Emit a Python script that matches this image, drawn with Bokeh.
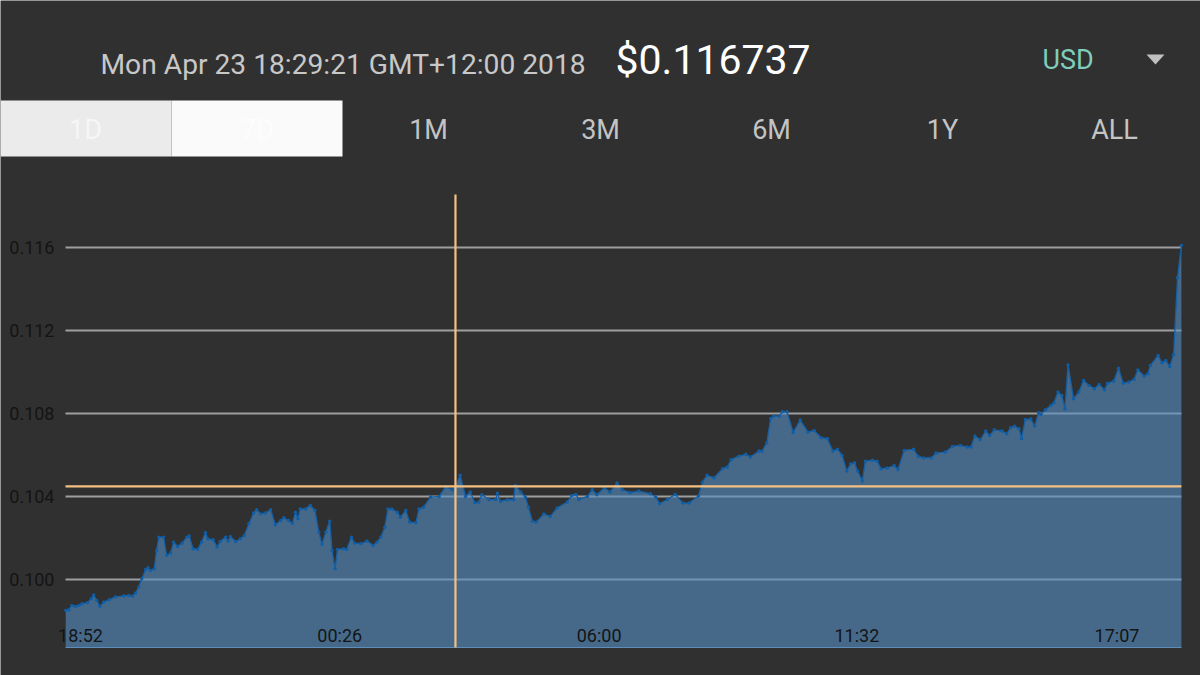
from bokeh.plotting import figure
from bokeh.models import Range1d, LinearAxis, FixedTicker, NumeralTickFormatter
from bokeh.core.properties import value
from bokeh.embed import file_html
from bokeh.resources import INLINE

# minutes after 18:52 on the first day
minutes = [-19,-15,-11,-6,-2,2,9,14,17,21,25,30,37,45,56,62,67,71,75,79,84,87,90,95,98,101,107,111,116,120,125,131,137,140,145,151,156,161,164,171,176,180,187,190,193,200,206,211,217,223,227,232,238,245,251,258,262,268,273,277,280,283,290,296,302,307,311,316,321,324,328,331,339,343,349,353,361,369,377,382,387,392,396,401,408,
412,419,424,432,436,442,451,462,470,479,483,489,496,502,508,513,517,526,535,537,541,550,558,560,567,573,577,582,587,597,605,614,627,633,638,642,653,659,665,675,682,691,698,708,719,734,741,746,756,766,776,784,796,801,807,816,827,833,838,848,857,863,874,878,884,889,893,900,904,910,918,927,
937,945,954,962,969,975,981,987,992,997,1001,1007,1011,1020,1026,1031,1039,1048,1053,1061,1073,1079,1086,1096,1102,1114,1123,1133,1142,1147,1152,1159,1166,1171,1177,1187,1193,1198,1203,1209,1212,1217,1224,1229,1234,1237,1243,1250,1254,1259,1264,1268,1272,1279,1286,1292,1299,1306,1312,1319,1323,1331,1337,1343,1350,1357,1362,1370,1375,1378,1388,1393,1398,1403,1408,1413,1418]

prices = [.09851,.09854,.09875,.09870,.09875,.09883,.09888,.09907,.09925,.09899,.09870,.09891,.09902,.09916,.09921,.09923,.09920,.09934,.09963,.10003,.10048,.10056,.10043,.10051,.10140,.10204,.10204,.10116,.10127,.10180,.10159,.10175,.10204,.10209,.10148,.10145,.10180,.10225,.10196,.10191,.10156,.10183,.10204,.10185,.10207,.10183,.10196,.10212,.10268,.10320,.10336,.10316,.10320,.10336,.10263,.10284,.10297,.10284,.10271,.10324,.10292,.10340,.10340,.10357,.10332,.10228,.10169,.10228,.10281,.10140,.10051,.10145,.10148,.10145,.10204,.10175,.10172,.10185,.10164,.10180,.10204,.10252,.10340,.10340,.10324,
.10300,.10332,.10276,.10273,.10340,.10348,.10397,.10400,.10445,.10432,.10448,.10502,.10400,.10421,.10369,.10373,.10408,.10385,.10385,.10416,.10376,.10384,.10384,.10453,.10421,.10397,.10348,.10281,.10276,.10316,.10303,.10345,.10373,.10405,.10410,.10385,.10400,.10432,.10408,.10442,.10421,.10465,.10432,.10418,.10426,.10413,.10397,.10365,.10385,.10410,.10368,.10368,.10402,.10469,.10502,.10490,.10534,.10542,.10577,.10594,.10603,.10590,.10619,.10618,.10658,.10776,.10787,.10787,.10808,.10808,.10708,.10768,
.10710,.10718,.10683,.10678,.10619,.10627,.10598,.10522,.10557,.10562,.10522,.10474,.10570,.10574,.10570,.10533,.10537,.10549,.10530,.10622,.10627,.10593,.10586,.10586,.10609,.10614,.10641,.10646,.10638,.10638,.10691,.10673,.10715,.10694,.10721,.10715,.10702,.10731,.10739,.10726,.10678,.10771,.10773,.10739,.10803,.10795,.10818,.10839,.10851,.10903,.10887,.10822,.11034,.10871,.10903,.10959,.10935,.10919,.10940,.10914,.10946,.10956,.11018,.10946,.10951,.10964,.11010,.10980,.10991,.11031,.11079,.11044,.11055,.11026,.11084,.11454,.11610]

y_ticks = [0.100, 0.104, 0.108, 0.112, 0.116]
x_ticks = [0, 334, 668, 1000, 1335]
x_tick_labels = ["18:52", "00:26", "06:00", "11:32", "17:07"]
tab_labels = ["1D", "7D", "1M", "3M", "6M", "1Y", "ALL"]
date_text = "Mon Apr 23 18:29:21 GMT+12:00 2018"
price_text = "$0.116737"
currency = "USD"
cross_minute = 483
cross_price = 0.10448

BG = "#303030"
p = figure(width=1200, height=675, output_backend="svg", toolbar_location=None,
           x_range=Range1d(-103, 1442.6), y_range=Range1d(.09537, .12790),
           x_axis_type=None, y_axis_type=None, min_border=0,
           background_fill_color=BG, border_fill_color=BG, outline_line_color=None)
p.grid.visible = False
p.extra_x_ranges["px"] = Range1d(0, 1200)
p.extra_y_ranges["px"] = Range1d(675, 0)

x0, x1, y0 = -19.3, 1418, 0.09672
ROBOTO = value("Roboto")

p.segment(x0=[x0]*len(y_ticks), x1=[x1]*len(y_ticks), y0=y_ticks, y1=y_ticks,
          line_color="#9e9e9e", line_width=2)
p.varea(x=minutes, y1=[y0]*len(minutes), y2=prices, fill_color="#558fc6", fill_alpha=0.6)
p.segment(x0=[x0], x1=[x1], y0=[y0], y1=[y0], line_color="#5d8db8", line_width=1.2)
p.line(minutes, prices, line_color="#1560a6", line_width=1.3)
p.scatter(minutes, prices, size=3.4, fill_color="#0f5ea6", line_color=None)

p.segment(x0=[x0], x1=[x1], y0=[cross_price], y1=[cross_price], line_color="#f4c183", line_width=2.2)
p.segment(x0=[cross_minute], x1=[cross_minute], y0=[y0], y1=[0.11855], line_color="#f4c183", line_width=2.2)

yax = LinearAxis(fixed_location=x0, ticker=FixedTicker(ticks=y_ticks),
                 formatter=NumeralTickFormatter(format="0.000"),
                 axis_line_color=None, major_tick_line_color=None, minor_tick_line_color=None,
                 major_label_text_color="#141414", major_label_text_font="Roboto",
                 major_label_text_font_size="18px", major_label_standoff=5)
p.add_layout(yax, "left")
xax = LinearAxis(fixed_location=0.09821, ticker=FixedTicker(ticks=x_ticks),
                 major_label_overrides=dict(zip(x_ticks, x_tick_labels)),
                 axis_line_color=None, major_tick_line_color=None, minor_tick_line_color=None,
                 major_label_text_color="#141414", major_label_text_font="Roboto",
                 major_label_text_font_size="18px", major_label_standoff=2)
p.add_layout(xax, "below")

# header, in reference pixels
p.quad(left=[0, 171], right=[171, 342], top=[100, 100], bottom=[156, 156],
       fill_color=["#ebebeb", "#fafafa"], line_color=None, x_range_name="px", y_range_name="px")
tab_x = [85, 257, 428, 600, 771, 942, 1114]
tab_colors = ["#f6f6f6", "#fdfdfd"] + ["#c4c4c4"] * 5
p.text(x=tab_x, y=[129.5]*7, text=tab_labels, text_color=tab_colors, text_font=ROBOTO, text_font_size="27px",
       text_align="center", text_baseline="middle", x_range_name="px", y_range_name="px")
p.text(x=[100], y=[63.5], text=[date_text], text_color="#c8c8c8", text_font=ROBOTO, text_font_size="28.2px",
       text_baseline="middle", x_range_name="px", y_range_name="px")
p.text(x=[615], y=[59.5], text=[price_text], text_color="#ffffff", text_font=ROBOTO, text_font_size="41px",
       text_baseline="middle", x_range_name="px", y_range_name="px")
p.text(x=[1042], y=[59.5], text=[currency], text_color="#7fcdbb", text_font=ROBOTO, text_font_size="27px",
       text_baseline="middle", x_range_name="px", y_range_name="px")
p.patch(x=[1146, 1164, 1155], y=[54, 54, 64], fill_color="#c0c0c0", line_color=None,
        x_range_name="px", y_range_name="px")

open("out.html", "w").write(file_html(p, INLINE))
